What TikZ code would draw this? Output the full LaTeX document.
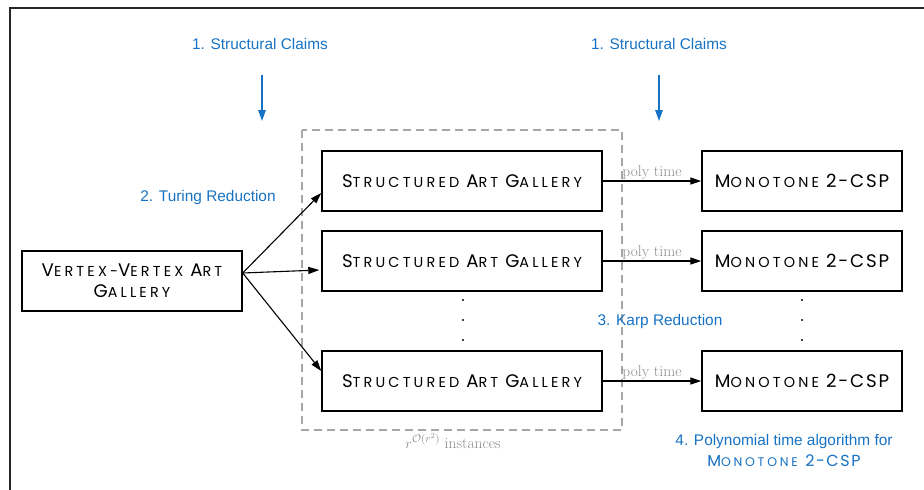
\documentclass[tikz,border=0pt]{standalone}
\usepackage{fontspec}
\setsansfont{Liberation Sans}
\newfontfamily\scfont{Poppins}[LetterSpace=22]
\usetikzlibrary{arrows.meta}
\definecolor{lblue}{RGB}{22,114,196}
\definecolor{lgray}{RGB}{140,140,140}
\newcommand\bc[1]{{\fontsize{18.2}{20}\selectfont #1}}
\newcommand\sm[1]{{\fontsize{14.4}{20}\selectfont #1}}
\newcommand\bcb[1]{{\fontsize{16}{20}\selectfont #1}}
\newcommand\smb[1]{{\fontsize{12.5}{20}\selectfont #1}}
\newcommand\tight[1]{{\addfontfeature{LetterSpace=10}#1}}
\tikzset{
  box/.style={draw=black, line width=1.4pt, fill=white, align=center, inner sep=0pt, font=\scfont\fontsize{14.4}{20}\selectfont},
  lbl/.style={text=lblue, font=\sffamily\fontsize{15.4}{18}\selectfont, inner sep=0pt},
  conn/.style={line width=1.1pt, -{Triangle[length=11pt,width=7pt]}},
  bluearr/.style={draw=lblue, line width=1.4pt, -{Triangle[length=11pt,width=7.5pt]}},
  ptime/.style={text=lgray, font=\fontsize{15.5}{17}\selectfont, inner sep=1pt}
}
\begin{document}
\begin{tikzpicture}[x=1pt,y=-1pt]
\useasboundingbox (0,0) rectangle (924,490);
\draw[line width=1.6pt, black!85] (10,490) -- (10,8) -- (924,8);
% dashed group
\draw[draw=black!35, line width=1.3pt, dash pattern=on 8pt off 5pt] (302,130) rectangle (622,430);
\node[text=lgray, font=\fontsize{15.5}{17}\selectfont] (inst) at (453,441) {$r^{\mathcal{O}(r^2)}$ instances};
% boxes
\node[box, minimum width=220pt, minimum height=60pt] (L) at (132,281) {\bc{V}\sm{ERTEX}-\bc{V}\sm{ERTEX} \bc{A}\sm{RT}\\[1pt]\bc{G}\sm{ALLERY}};
\node[box, minimum width=280pt, minimum height=60pt] (S1) at (462,181) {\bc{S}\sm{TRUCTURED} \bc{A}\sm{RT} \bc{G}\sm{ALLERY}};
\node[box, minimum width=280pt, minimum height=60pt] (S2) at (462,261) {\bc{S}\sm{TRUCTURED} \bc{A}\sm{RT} \bc{G}\sm{ALLERY}};
\node[box, minimum width=280pt, minimum height=60pt] (S3) at (462,381) {\bc{S}\sm{TRUCTURED} \bc{A}\sm{RT} \bc{G}\sm{ALLERY}};
\node[box, minimum width=200pt, minimum height=60pt] (M1) at (802,181) {\bc{M}\sm{ONOTONE} \tight{\bc{2-CSP}}};
\node[box, minimum width=200pt, minimum height=60pt] (M2) at (802,261) {\bc{M}\sm{ONOTONE} \tight{\bc{2-CSP}}};
\node[box, minimum width=200pt, minimum height=60pt] (M3) at (802,381) {\bc{M}\sm{ONOTONE} \tight{\bc{2-CSP}}};
% dots
\foreach \yy in {300,320,340} {
  \fill (463,\yy) circle (1.1pt);
  \fill (802,\yy) circle (1.1pt);
}
% turing arrows
\coordinate (src) at ([yshift=8pt]L.east);
\draw[conn] (src) -- ([yshift=-12pt]S1.west);
\draw[conn] (src) -- ([yshift=-9pt,xshift=-2pt]S2.west);
\draw[conn] (src) -- ([yshift=10pt]S3.west);
% poly time arrows
\draw[conn] (S1.east) -- node[ptime, above] {poly time} (M1.west);
\draw[conn] (S2.east) -- node[ptime, above] {poly time} (M2.west);
\draw[conn] (S3.east) -- node[ptime, above] {poly time} (M3.west);
% labels
\node[lbl] (c1) at (260,44) {1. Structural Claims};
\node[lbl] (c2) at (659,44) {1. Structural Claims};
\coordinate (a1) at (262,75);
\coordinate (b1) at (262,121);
\coordinate (a2) at (659,75);
\coordinate (b2) at (659,121);
\draw[bluearr] (a1) -- (b1);
\draw[bluearr] (a2) -- (b2);
\node[lbl] (tr) at (208,198) {2. Turing Reduction};
\node[lbl] (kr) at (660,322) {3. Karp Reduction};
\node[lbl, align=center] (pa) at (784,450) {4. Polynomial time algorithm for\\[3pt]{\scfont\color{lblue}\bcb{M}\smb{ONOTONE} \tight{\bcb{2-CSP}}}};
\end{tikzpicture}
\end{document}
